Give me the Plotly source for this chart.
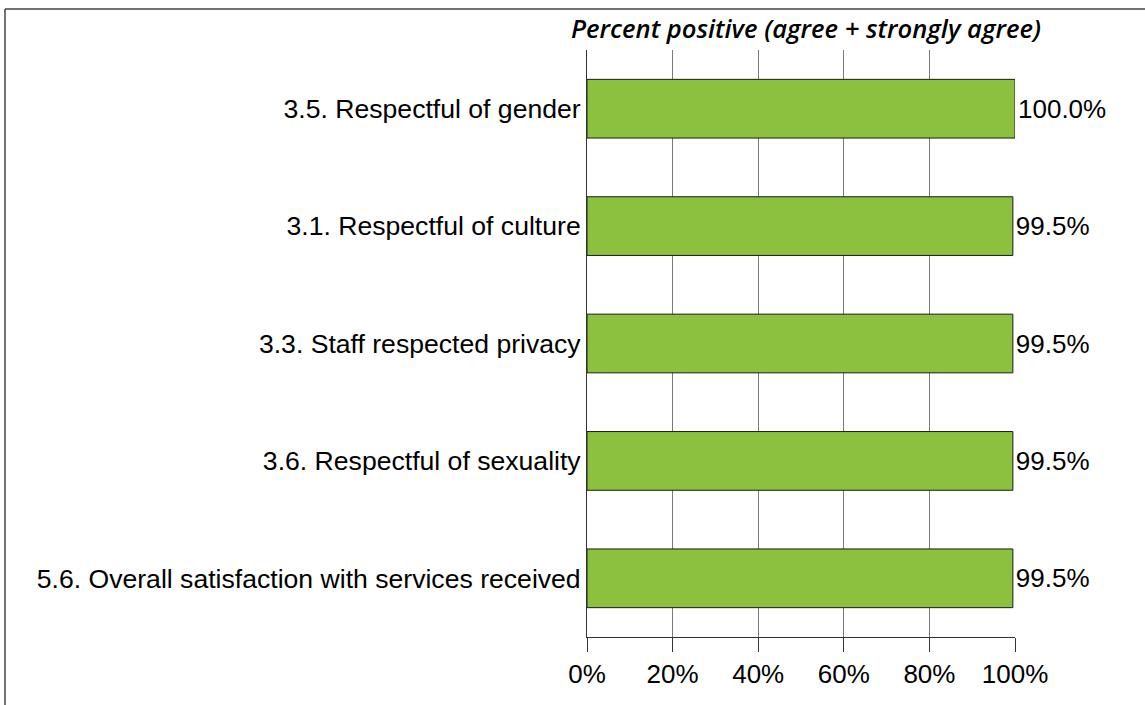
import plotly.graph_objects as go

categories = [
    "3.5. Respectful of gender",
    "3.1. Respectful of culture",
    "3.3. Staff respected privacy",
    "3.6. Respectful of sexuality",
    "5.6. Overall satisfaction with services received",
]
values = [100.0, 99.5, 99.5, 99.5, 99.5]
value_labels = [f"{v:.1f}%" for v in values]
tick_values = [0, 20, 40, 60, 80, 100]
tick_labels = [f"{t}%" for t in tick_values]
title_text = "Percent positive (agree + strongly agree)"

W, H = 1145, 705
M_L, M_R, M_T, M_B = 587, 130, 50, 68
plot_w = W - M_L - M_R
plot_h = H - M_T - M_B

LABEL_FONT = "Liberation Sans, Arial, sans-serif"

fig = go.Figure(
    go.Bar(
        x=values,
        y=categories,
        orientation="h",
        width=0.5,
        marker=dict(color="#8BC13F", line=dict(color="#1a1a1a", width=1)),
        text=value_labels,
        textposition="outside",
        textfont=dict(family=LABEL_FONT, size=26, color="#000"),
        cliponaxis=False,
        hoverinfo="skip",
    )
)

# outer frame (top and left edges)
px_x = lambda p: (p - M_L) / plot_w
px_y = lambda p: 1 - (p - M_T) / plot_h
fig.add_shape(type="line", xref="paper", yref="paper",
              x0=px_x(5), x1=px_x(W + 5), y0=px_y(9), y1=px_y(9),
              line=dict(color="#444", width=1.5))
fig.add_shape(type="line", xref="paper", yref="paper",
              x0=px_x(5), x1=px_x(5), y0=px_y(9), y1=px_y(H + 5),
              line=dict(color="#444", width=1.5))

fig.update_layout(
    width=W,
    height=H,
    margin=dict(l=M_L, r=M_R, t=M_T, b=M_B, pad=0),
    paper_bgcolor="white",
    plot_bgcolor="white",
    showlegend=False,
    title=dict(
        text=f"<i>{title_text}</i>",
        font=dict(family="Open Sans, sans-serif", size=25.6, color="#000", weight=600),
        x=(M_L + plot_w / 2 + 5) / W,
        xanchor="center",
        y=1 - 29 / H,
        yanchor="middle",
    ),
    xaxis=dict(
        range=[0, 100],
        tickvals=tick_values,
        ticktext=tick_labels,
        tickfont=dict(family=LABEL_FONT, size=26, color="#000"),
        showgrid=True,
        gridcolor="#7a7a7a",
        gridwidth=1,
        showline=True,
        linecolor="#333",
        linewidth=1,
        ticks="outside",
        ticklen=14,
        tickcolor="#333",
        zeroline=False,
        fixedrange=True,
    ),
    yaxis=dict(
        autorange="reversed",
        tickfont=dict(family=LABEL_FONT, size=26.6, color="#000"),
        showline=True,
        linecolor="#333",
        linewidth=1,
        ticks="",
        showgrid=False,
        fixedrange=True,
    ),
)

fig.write_html("out.html")
